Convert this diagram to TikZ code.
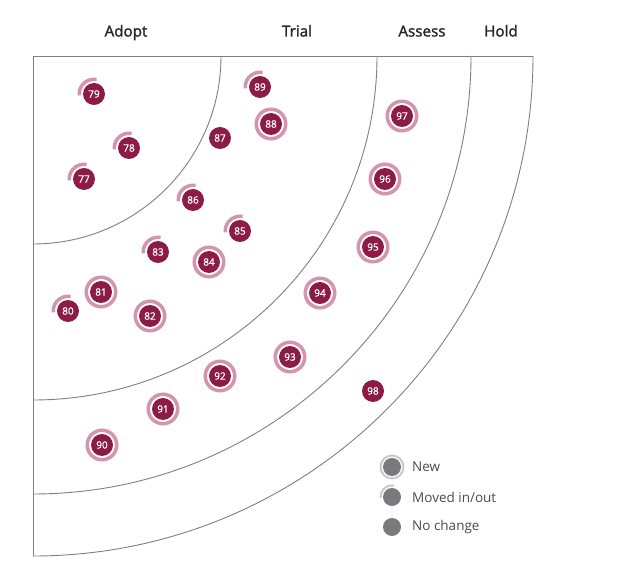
\documentclass[tikz,border=0pt]{standalone}
\usepackage{fontspec}
\setmainfont{Open Sans}
\newfontfamily\headfont[FakeBold=1.6]{Open Sans}
\newfontfamily\numfont[FakeBold=1.2]{Open Sans}
\definecolor{blip}{HTML}{8C1B45}
\definecolor{ringc}{HTML}{D495AA}
\definecolor{gridc}{HTML}{7F7F7F}
\definecolor{leg}{HTML}{7A797E}
\definecolor{legring}{HTML}{C9C9C9}
\definecolor{legtext}{HTML}{4A4A4A}
\usetikzlibrary{calc}
\tikzset{
  quad/.style={draw=gridc, line width=0.9pt},
  hdr/.style={anchor=base, font=\headfont\fontsize{15.2}{17}\selectfont, text=black!85, inner sep=0pt},
  blipnode/.style={circle, fill=blip, minimum size=22pt, inner sep=0pt, text=white, font=\numfont\fontsize{10}{11}\selectfont},
  legdot/.style={circle, fill=leg, minimum size=18pt, inner sep=0pt},
  legtxt/.style={anchor=west, font=\fontsize{13.5}{15}\selectfont, text=legtext, inner sep=0pt},
}
\newcommand{\newblip}[3]{%
  \node[blipnode] (b#1) at (#2,#3) {#1};
  \draw[ringc, line width=3.5pt] (b#1.center) circle[radius=14.75pt];
}
\newcommand{\movedblip}[3]{%
  \node[blipnode] (b#1) at (#2,#3) {#1};
  \draw[ringc, line width=3.5pt] ($(b#1.center)+(80:14.75pt)$) arc[start angle=80, end angle=185, radius=14.75pt];
}
\newcommand{\sameblip}[3]{%
  \node[blipnode] (b#1) at (#2,#3) {#1};
}
\begin{document}
\begin{tikzpicture}[x=1pt,y=-1pt]
\useasboundingbox (0,0) rectangle (630,577);
\coordinate (o) at (33,56);
% frame
\draw[quad] (533,56) -- (o) -- (33,556);
\draw[quad] (221,56) arc[start angle=0, end angle=-90, radius=188pt];
\draw[quad] (377,56) arc[start angle=0, end angle=-90, radius=344pt];
\draw[quad] (471,56) arc[start angle=0, end angle=-90, radius=438pt];
\draw[quad] (533,56) arc[start angle=0, end angle=-90, radius=500pt];
% headers
\node[hdr] (hadopt) at (126,36.5) {Adopt};
\node[hdr] (htrial) at (297,36.5) {Trial};
\node[hdr] (hassess) at (422,36.5) {Assess};
\node[hdr] (hhold) at (501,36.5) {Hold};
% blips
\movedblip{79}{94}{94}
\movedblip{78}{129}{148}
\movedblip{77}{84}{179}
\sameblip{87}{220}{138}
\movedblip{89}{260}{87}
\newblip{88}{271}{124}
\movedblip{86}{193}{200}
\movedblip{85}{240}{231}
\movedblip{83}{158}{252}
\newblip{84}{209}{262}
\newblip{81}{101}{292}
\movedblip{80}{68}{311}
\newblip{82}{150}{316}
\newblip{97}{402}{116}
\newblip{96}{385}{179}
\newblip{95}{373}{247}
\newblip{94}{320}{293}
\newblip{93}{290}{357}
\newblip{92}{220}{376}
\newblip{91}{163}{409}
\newblip{90}{102}{445}
\sameblip{98}{373}{391}
% legend
\node[legdot] (lnew) at (392,467) {};
\draw[legring, line width=2pt] (lnew.center) circle[radius=11.5pt];
\node[legtxt] (tnew) at (412,467) {New};
\node[legdot] (lmoved) at (392,497) {};
\draw[legring, line width=2pt] ($(lmoved.center)+(80:11.5pt)$) arc[start angle=80, end angle=185, radius=11.5pt];
\node[legtxt] (tmoved) at (412,497) {Moved in/out};
\node[legdot] (lsame) at (392,527) {};
\node[legtxt] (tsame) at (412,527) {No change};
\end{tikzpicture}
\end{document}
